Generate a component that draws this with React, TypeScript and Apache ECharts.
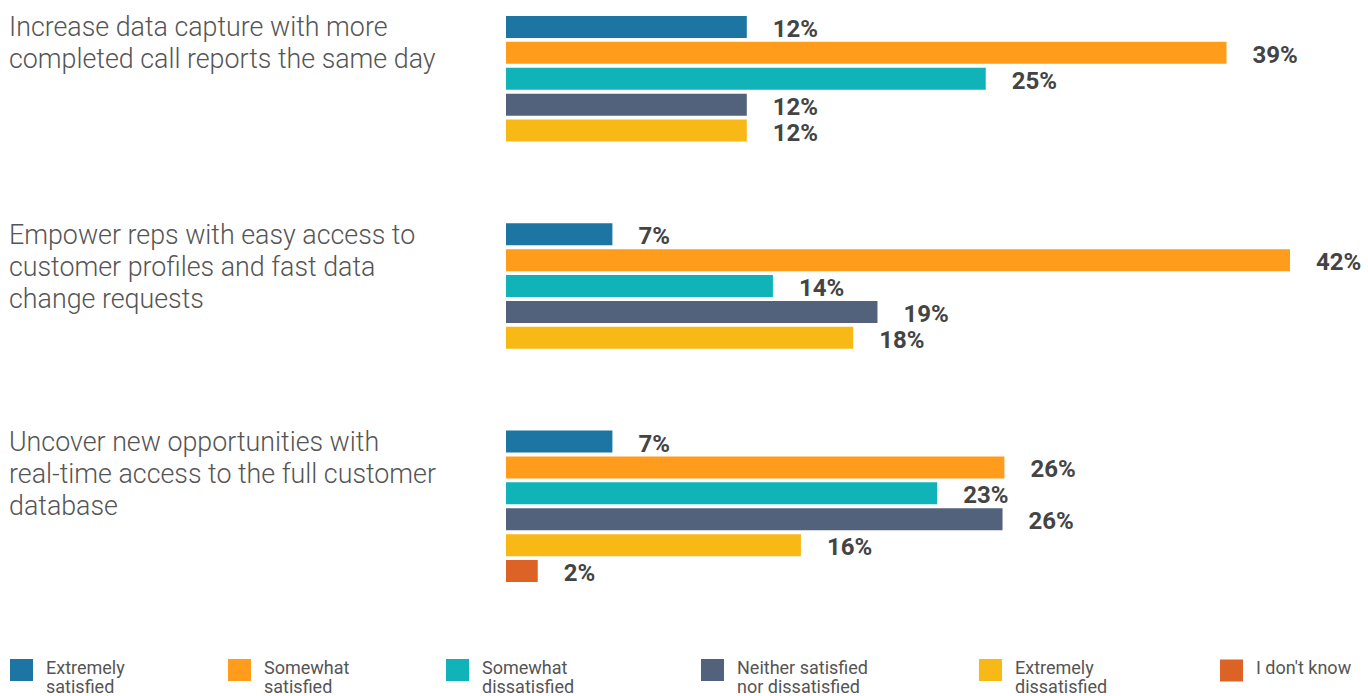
import React, { useEffect, useRef } from "react";
import * as echarts from "echarts";

// Question groups (left titles)
const groupTitles = [
  "Increase data capture with more\ncompleted call reports the same day",
  "Empower reps with easy access to\ncustomer profiles and fast data\nchange requests",
  "Uncover new opportunities with\nreal-time access to the full customer\ndatabase",
];

// Response categories (legend)
const responses = [
  "Extremely satisfied",
  "Somewhat satisfied",
  "Somewhat dissatisfied",
  "Neither satisfied nor dissatisfied",
  "Extremely dissatisfied",
  "I don't know",
];
const legendLines = [
  ["Extremely", "satisfied"],
  ["Somewhat", "satisfied"],
  ["Somewhat", "dissatisfied"],
  ["Neither satisfied", "nor dissatisfied"],
  ["Extremely", "dissatisfied"],
  ["I don't know"],
];
const colors = ["#1C75A2", "#FF9C1C", "#10B4B8", "#52627C", "#F8B816", "#DD6226"];

// Bar lengths (percent), per group
const extremelySatisfied = [12.9, 5.7, 5.7];
const somewhatSatisfied = [38.6, 42.0, 26.7];
const somewhatDissatisfied = [25.7, 14.3, 23.1];
const neitherNor = [12.9, 19.9, 26.6];
const extremelyDissatisfied = [12.9, 18.6, 15.8];
const dontKnow = [null, null, 1.7];

// Printed labels (percent)
const extremelySatisfiedLbl = [12, 7, 7];
const somewhatSatisfiedLbl = [39, 42, 26];
const somewhatDissatisfiedLbl = [25, 14, 23];
const neitherNorLbl = [12, 19, 26];
const extremelyDissatisfiedLbl = [12, 18, 16];
const dontKnowLbl = [null, null, 2];

const seriesValues = [
  extremelySatisfied,
  somewhatSatisfied,
  somewhatDissatisfied,
  neitherNor,
  extremelyDissatisfied,
  dontKnow,
];
const seriesLabels = [
  extremelySatisfiedLbl,
  somewhatSatisfiedLbl,
  somewhatDissatisfiedLbl,
  neitherNorLbl,
  extremelyDissatisfiedLbl,
  dontKnowLbl,
];

// Row layout: each group starts at a row, one row per response, blank rows between groups
const groupStartRow = [0, 8, 16];
const totalRows = 22;

export default function App() {
  const ref = useRef<HTMLDivElement>(null);

  useEffect(() => {
    if (!ref.current) return;
    const chart = echarts.init(ref.current, null, { renderer: "svg" });

    const rows = Array.from({ length: totalRows }, (_, i) => String(i));

    const series = responses.map((name, si) => {
      const data: any[] = rows.map(() => "-");
      groupStartRow.forEach((start, g) => {
        const v = seriesValues[si][g];
        if (v !== null && v !== undefined) {
          data[start + si] = { value: v, shown: seriesLabels[si][g] + "%" };
        }
      });
      return {
        name,
        type: "bar",
        data,
        barWidth: 22,
        barGap: "-100%",
        itemStyle: { color: colors[si] },
        label: {
          show: true,
          position: "right",
          distance: 26,
          offset: [0, 2],
          formatter: (p: any) => (p.data && p.data.shown) || "",
          fontFamily: "Roboto",
          fontWeight: "bold",
          fontSize: 24,
          color: "#444444",
        },
      };
    });

    const legendLefts = [10, 228, 446, 701, 979, 1220];
    const legends = responses.map((name, i) => {
      const lines = legendLines[i];
      const text =
        lines.length === 2
          ? "{s| }\n{t|" + lines[0] + "}\n{t|" + lines[1] + "}"
          : "{t|" + lines[0] + "}\n{u| }";
      return {
        data: [name],
        left: legendLefts[i],
        top: lines.length === 2 ? 650.5 : 658.5,
        padding: 0,
        icon: "rect",
        itemWidth: 23,
        itemHeight: 22,
        selectedMode: false,
        formatter: () => text,
        textStyle: {
          fontFamily: "Roboto",
          fontSize: 18,
          color: "#555555",
          rich: {
            s: { fontSize: 1, lineHeight: 13, padding: [0, 0, 0, 8] },
            u: { fontSize: 1, lineHeight: 6, padding: [0, 0, 0, 8] },
            t: {
              fontFamily: "Roboto",
              fontSize: 18,
              lineHeight: 19,
              color: "#555555",
              padding: [0, 0, 0, 8],
            },
          },
        },
      };
    });

    const titleTops = [11, 219, 426];
    const graphic = groupTitles.map((t, i) => ({
      type: "text",
      left: 9,
      top: titleTops[i],
      style: {
        text: t,
        fontFamily: "Roboto",
        fontWeight: 300,
        fontSize: 26.8,
        lineHeight: 32,
        fill: "#555555",
      },
    }));

    chart.setOption({
      animation: false,
      grid: { left: 506, right: 22, top: 14, bottom: 112, containLabel: false },
      xAxis: {
        type: "value",
        min: 0,
        max: 45,
        show: false,
      },
      yAxis: {
        type: "category",
        data: rows,
        inverse: true,
        show: false,
      },
      legend: legends,
      graphic,
      series,
    });

    return () => chart.dispose();
  }, []);

  return (
    <div
      ref={ref}
      style={{ position: "fixed", left: 0, top: 0, width: 1368, height: 696, background: "#fff" }}
    />
  );
}
